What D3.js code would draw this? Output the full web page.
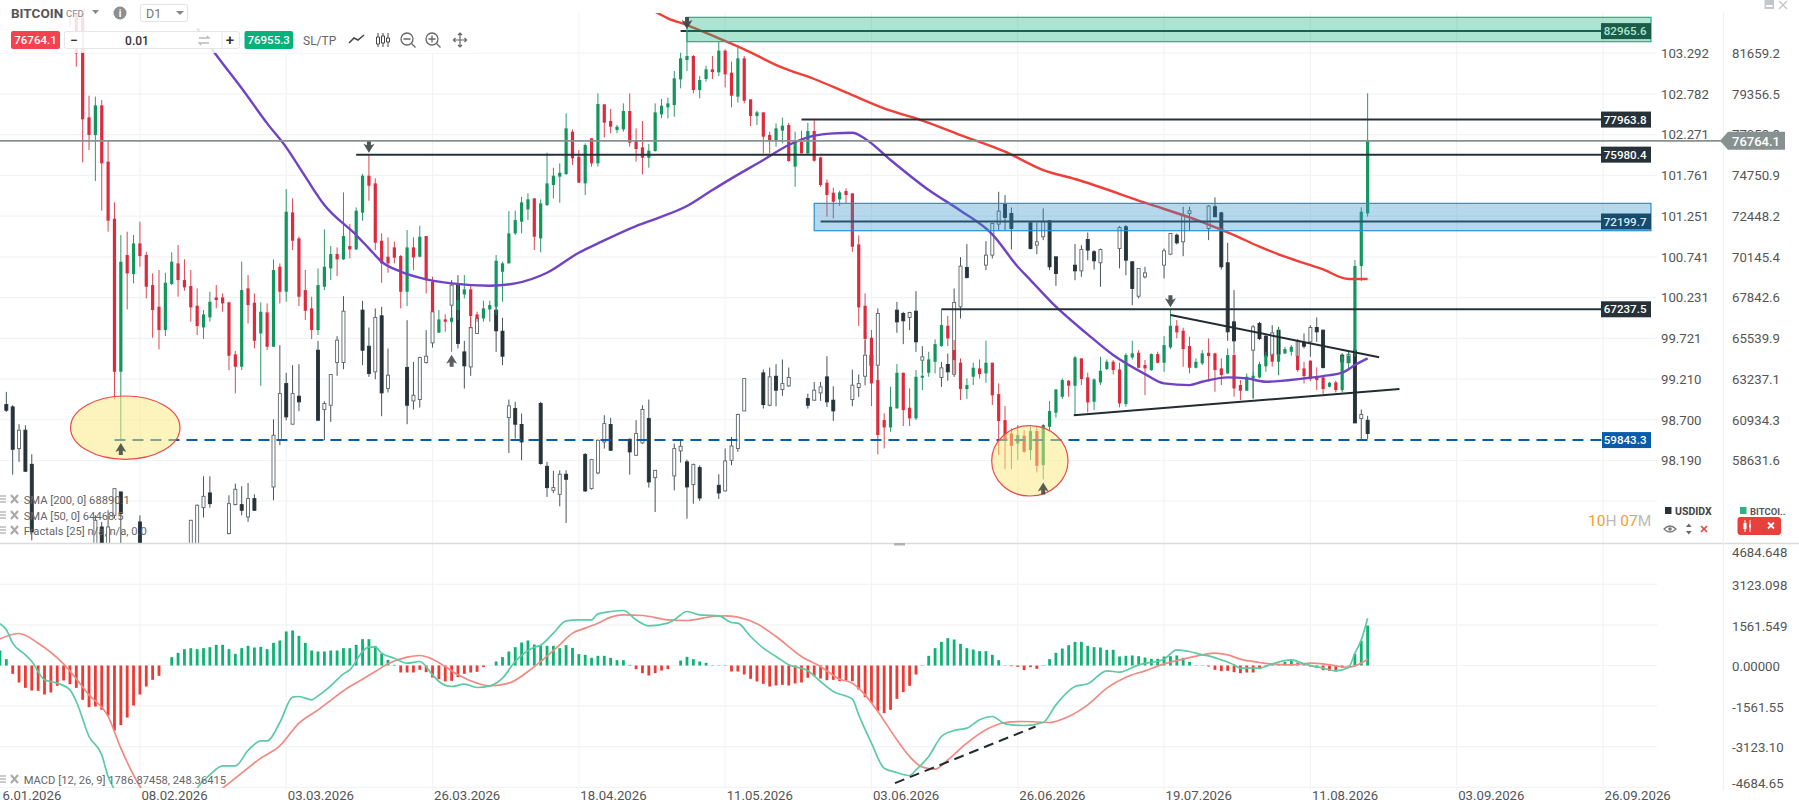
<!DOCTYPE html>
<html>
<head>
<meta charset="utf-8">
<script src="https://cdn.jsdelivr.net/npm/d3@7"></script>
<style>
    html, body { margin: 0; padding: 0; background: #fff; overflow: hidden; }
    text { font-family: Roboto, sans-serif; }
    .tick line, .domain { display: none; }
</style>
</head>
<body>
<svg id="chart" width="1799" height="810"></svg>
<script>
// first candle of the USDIDX series, every "day" below counts from here
const startDate = Date.UTC(2026, 0, 18);

// BITCOIN candles, one per day, starting at day 10
const btcFirstDay = 10;
const btcOpen = [
    86000, 86000, 86000, 78089, 77090, 78767, 75582, 72358, 63706, 70304,
    69229, 70963, 70304, 68607, 67382, 66063, 68664, 69832, 68890, 68551,
    67438, 66213, 66779, 67910, 67910, 67627, 64686, 63989, 68419, 67608,
    65874, 67062, 65120, 69644, 68230, 72716, 71246, 68324, 67288, 66063,
    68513, 69550, 70360, 70059, 70813, 70624, 72698, 74790, 74356, 71114,
    70210, 70737, 70247, 68230, 70737, 70210, 71378, 68795, 65912, 66666,
    66534, 67193, 68080, 68362, 66948, 66722, 67231, 67382, 69361, 69832,
    71529, 72189, 72886, 73508, 71246, 73131, 74262, 74734, 74884, 77278,
    75865, 74356, 76901, 75488,
    78824, 77881, 77372, 77410, 78447, 76807, 76392, 75808, 76185, 78258,
    78654, 78786, 80238, 81331, 81557, 79634, 80257, 80803, 80634, 81859,
    80615, 79258, 81425, 79107, 78164, 78372, 77090, 76807, 77335, 77655,
    75299, 76713, 76053, 77316, 75827, 74394, 73829, 73452, 73923, 73791,
    70907, 67438, 65629, 63235, 60973, 60558, 61633, 63650, 61671, 61067,
    63367, 63650, 64272, 65158, 66308, 64931, 64215, 62725, 63423, 63894,
    63612, 64215, 62443, 60973, 60219, 59653, 60087, 59276, 60351, 58428,
    60596, 61388, 62292, 63197, 62915, 64460, 63386, 62009, 63103, 63857,
    64272, 63838, 61878, 64517, 64781, 64083, 63800, 64705, 64215, 65082,
    66308, 66025, 65158, 63933, 64178, 64781, 64743, 63894, 63612, 64649,
    62952, 62632, 63329, 63386, 64026, 64649, 64272, 64743, 64837, 64592,
    63894, 64329, 63386, 63386, 62857, 63103, 62669, 64215, 64743, 69681, 72660
];
const btcHigh = [
    86500, 86500, 86500, 79314, 79258, 79069, 76769, 73282, 71435, 71623,
    71435, 72189, 70492, 69267, 69456, 69304, 70455, 70869, 70059, 69456,
    68419, 67193, 68230, 68607, 68136, 67665, 64875, 69926, 69173, 68136,
    67627, 67570, 70059, 69832, 74036, 73508, 71341, 69456, 67947, 69550,
    71755, 70813, 70737, 73848, 72057, 72999, 74884, 75980, 74639, 71529,
    71303, 71058, 70304, 71718, 71303, 71962, 71378, 69078, 67193, 66948,
    67005, 68701, 69173, 68607, 67099, 67721, 67721, 70304, 69926, 72792,
    72811, 73603, 73791, 73508, 73451, 76091, 75242, 75487, 78315, 77410,
    76242, 76618, 76901, 79446,
    78824, 78560, 77655, 78880, 79446, 77467, 77881, 76581, 78880, 79126,
    79201, 80709, 81746, 82966, 81614, 80426, 81010, 81557, 82368, 81934,
    81237, 82028, 81557, 79107, 78466, 78372, 77278, 77749, 78070, 77787,
    77278, 77335, 77787, 77938, 75865, 74583, 74111, 73942, 74074, 73791,
    71416, 68136, 66063, 63989, 61350, 62858, 64140, 63650, 62764, 63800,
    64366, 64837, 65535, 67231, 66873, 65497, 64460, 63329, 64215, 64404,
    65459, 64215, 63046, 61765, 60502, 60690, 60407, 60596, 60596, 60747,
    62048, 62707, 63329, 63235, 64592, 64460, 63650, 63329, 64554, 64404,
    64366, 64215, 64743, 65459, 64931, 64366, 64743, 64837, 65723, 67237,
    66628, 66195, 65686, 64460, 64931, 65591, 64781, 64460, 65026, 64837,
    63235, 63612, 63706, 64272, 64837, 64743, 66157, 65120, 65214, 65535,
    64272, 64366, 63951, 63518, 63122, 63197, 64743, 64837, 70021, 72999, 79446
];
const btcLow = [
    83216, 80954, 75544, 76242, 74488, 72811, 71623, 62142, 59843, 67231,
    68701, 69644, 67853, 65629, 64969, 65723, 68607, 67947, 68287, 66534,
    65780, 65554, 66534, 67288, 67099, 63800, 62481, 63800, 66440, 65026,
    62914, 64931, 65120, 67570, 67665, 70586, 67420, 66628, 65554, 65780,
    68324, 68890, 69116, 70021, 70115, 70586, 72245, 73376, 70586, 68739,
    69304, 69832, 67288, 67420, 69456, 70172, 68136, 67099, 65912, 65968,
    64837, 66628, 67853, 66157, 66534, 66534, 66534, 66911, 67665, 69832,
    71435, 71529, 72283, 70586, 70454, 73075, 73508, 73263, 74828, 75393,
    74394, 73697, 75299, 75299,
    76958, 77184, 77184, 77278, 76430, 75582, 74866, 75242, 76148, 78032,
    78032, 78126, 79729, 80709, 79446, 79163, 80106, 80257, 80426, 79785,
    78654, 78918, 78880, 77599, 77655, 76053, 76053, 76430, 76618, 75582,
    74168, 76053, 76015, 75582, 74168, 72472, 72377, 73075, 73226, 70492,
    66289, 64743, 61765, 59031, 59371, 60313, 61633, 60634, 60634, 60973,
    62669, 63423, 63612, 65120, 65158, 63612, 62104, 62160, 62952, 63329,
    63084, 61821, 58994, 58202, 58202, 58711, 59125, 58711, 58013, 57617,
    60351, 61105, 62160, 62292, 61218, 62952, 61406, 61538, 62952, 63800,
    63556, 61689, 61727, 64404, 63894, 62386, 63762, 64178, 63706, 64988,
    65591, 63989, 63612, 63894, 64083, 63141, 62575, 62952, 63574, 62292,
    62104, 62632, 62198, 63329, 63706, 63989, 63518, 64705, 64611, 63706,
    63046, 63179, 62669, 62443, 62820, 62537, 62537, 63894, 64554, 68833, 72472
];
const btcClose = [
    85000, 81708, 77976, 77090, 78767, 75488, 72245, 63706, 69926, 69267,
    70963, 70247, 68513, 67193, 66063, 68739, 69926, 68890, 68475, 67344,
    66289, 66948, 67665, 67759, 67570, 64611, 63989, 68324, 67476, 65459,
    67099, 65120, 69456, 68230, 72754, 71114, 67947, 67155, 66063, 68607,
    69644, 70360, 70059, 71378, 70624, 72811, 74790, 74225, 71001, 69832,
    69832, 70153, 68230, 70737, 70172, 71341, 68890, 67099, 66666, 66534,
    66760, 67759, 68362, 66854, 66722, 67288, 67476, 69983, 69832, 71529,
    72283, 73282, 73452, 71341, 73226, 74356, 74790, 74960, 77467, 75770,
    74394, 76524, 75488, 78843,
    77787, 77561, 77561, 78447, 76656, 76298, 75808, 76204, 78372, 78748,
    78880, 80294, 81425, 81557, 79634, 80200, 80803, 80652, 81859, 80520,
    79314, 81425, 79031, 78164, 78372, 76995, 76750, 77467, 77617, 75620,
    76713, 76053, 77316, 75638, 74262, 73697, 73320, 73848, 73697, 70775,
    67344, 65554, 63046, 60125, 60558, 61727, 63650, 61538, 61067, 63423,
    63480, 64404, 65270, 66345, 65591, 64366, 62725, 62952, 63933, 63574,
    64215, 62368, 60916, 59842, 59521, 60125, 59182, 60351, 58390, 60690,
    61482, 62707, 63235, 62915, 64517, 63292, 61972, 63273, 63762, 64272,
    63800, 61915, 64649, 64743, 63933, 63894, 64705, 64215, 65214, 66308,
    65931, 64988, 63933, 64272, 64743, 64592, 63800, 63518, 64649, 62764,
    62632, 63423, 63480, 64140, 64649, 64272, 64649, 64988, 65120, 63800,
    63461, 63292, 63235, 62725, 63084, 62669, 64592, 64592, 69681, 72754, 76764
];

// USDIDX candles, no weekend bars, days below the panel are left out
const usdDay = [
    0, 1, 2, 3, 4, 14, 15, 16, 17, 18, 21, 29, 30, 31, 32, 35, 36, 37, 38, 39,
    42, 43, 44, 45, 46, 49, 50, 51, 52, 53, 56, 57, 58, 59, 60, 63, 64, 65, 66, 67,
    70, 71, 72, 73, 74, 77, 78, 79, 80, 81, 84, 85, 86, 87, 88, 91, 92, 93, 94, 95,
    98, 99, 100, 101, 102, 105, 106, 107, 108, 109, 112, 113, 114, 115, 116, 119, 120, 121, 122, 123,
    126, 127, 128, 129, 130, 133, 134, 135, 136, 137, 140, 141, 142, 143, 144, 147, 148, 149, 150, 151,
    154, 155, 156, 157, 158, 161, 162, 163, 164, 165, 168, 169, 170, 171, 172, 175, 176, 177, 178, 179,
    182, 183, 184, 185, 186, 189, 190, 191, 192, 193, 196, 197, 198, 199, 200, 203, 204, 205, 206, 207,
    210, 211, 212, 213, 214
];
const usdOpen = [
    98.903, 98.874, 98.352, 98.582, 98.155, 97.036, 97.370, 97.036, 97.516, 97.809, 97.433, 96.994, 96.994, 97.612, 97.796, 97.286, 97.650, 97.650, 97.495, 97.725,
    97.871, 98.456, 99.166, 98.657, 99.008, 99.584, 98.841, 98.895, 99.430, 99.430, 100.086, 99.634, 99.313, 100.015, 99.104, 99.367, 98.949, 98.966, 99.430, 99.676,
    100.148, 100.399, 99.563, 99.375, 99.793, 100.086, 99.822, 98.740, 98.853, 98.653, 98.916, 98.130, 97.829, 97.779, 98.030, 98.277, 97.850, 98.047, 98.435, 98.653,
    98.469, 98.268, 98.423, 98.728, 97.988, 98.009, 98.323, 98.185, 97.900, 98.114, 97.892, 97.821, 98.205, 98.352, 98.824, 99.300, 98.895, 99.258, 99.091, 99.137,
    98.978, 98.958, 99.049, 99.250, 98.958, 98.966, 99.116, 99.258, 99.522, 99.396, 100.086, 100.044, 99.994, 100.073, 99.459, 99.242, 99.405, 99.283, 100.127, 100.620,
    100.650, 100.775, 101.163, 101.414, 101.297, 101.180, 100.900, 101.005, 101.205, 100.754, 100.649, 100.578, 100.971, 100.817, 100.679, 100.858, 101.130, 100.691, 100.261, 100.503,
    100.649, 100.787, 101.025, 100.942, 101.297, 101.109, 101.381, 101.305, 100.679, 99.939, 99.584, 99.919, 99.760, 99.522, 99.835, 99.509, 99.676, 99.689, 99.868, 99.835,
    99.522, 99.426, 99.584, 98.728, 98.707
];
const usdHigh = [
    99.062, 98.895, 98.657, 98.644, 98.281, 97.516, 97.433, 97.579, 97.850, 97.809, 97.516, 97.454, 97.650, 98.005, 98.005, 97.767, 97.913, 97.880, 97.921, 97.779,
    98.719, 99.647, 99.300, 99.396, 99.409, 99.701, 98.945, 99.283, 99.760, 100.261, 100.203, 99.868, 100.107, 100.127, 99.605, 99.960, 99.438, 99.501, 99.835, 100.441,
    100.462, 100.524, 99.701, 100.002, 100.023, 100.148, 99.990, 98.966, 98.937, 98.790, 98.937, 98.185, 98.072, 98.080, 98.080, 98.297, 98.214, 98.465, 98.770, 98.736,
    98.477, 98.707, 98.895, 98.966, 98.080, 98.414, 98.456, 98.214, 98.164, 98.143, 98.030, 98.352, 98.498, 98.790, 99.229, 99.342, 99.367, 99.409, 99.467, 99.367,
    99.041, 99.187, 99.187, 99.509, 99.133, 99.342, 99.279, 99.710, 99.751, 100.107, 100.190, 100.065, 100.065, 100.324, 99.634, 99.438, 99.542, 100.357, 100.750, 100.913,
    100.950, 101.180, 101.569, 101.527, 101.372, 101.180, 101.180, 101.360, 101.205, 100.754, 100.913, 100.900, 101.059, 100.838, 100.858, 101.138, 101.151, 100.700, 100.608, 100.629,
    100.858, 101.046, 101.046, 101.381, 101.381, 101.402, 101.498, 101.318, 100.929, 100.336, 99.898, 99.939, 99.772, 99.898, 99.877, 99.718, 99.793, 99.898, 99.994, 99.843,
    99.542, 99.572, 99.584, 98.841, 98.761
];
const usdLow = [
    98.811, 98.026, 98.185, 98.059, 97.203, 96.910, 96.910, 96.952, 97.474, 97.077, 96.910, 96.952, 96.952, 97.487, 97.612, 97.278, 97.642, 97.516, 97.433, 97.571,
    97.704, 98.394, 98.707, 98.657, 98.820, 98.699, 98.456, 98.686, 99.263, 99.346, 99.396, 99.250, 99.221, 98.757, 99.054, 98.657, 98.841, 98.866, 99.417, 99.618,
    99.919, 99.605, 99.104, 99.263, 99.793, 99.563, 99.396, 98.297, 98.477, 98.205, 98.151, 97.746, 97.796, 97.629, 97.420, 97.809, 97.838, 98.030, 98.352, 98.323,
    98.026, 98.260, 98.414, 97.863, 97.558, 97.829, 98.176, 97.474, 97.662, 97.696, 97.721, 97.817, 98.143, 98.310, 98.824, 98.853, 98.882, 98.882, 99.012, 99.125,
    98.853, 98.949, 98.949, 98.874, 98.699, 98.882, 98.999, 99.146, 99.166, 99.166, 99.802, 99.660, 99.835, 99.563, 99.300, 99.125, 99.200, 99.250, 99.981, 100.483,
    100.587, 100.733, 101.080, 101.088, 100.846, 100.846, 100.787, 100.963, 100.587, 100.390, 100.461, 100.503, 100.712, 100.595, 100.378, 100.608, 100.524, 100.148, 100.232, 100.482,
    100.482, 100.775, 100.908, 100.762, 101.080, 100.963, 101.255, 100.595, 99.701, 99.563, 98.978, 99.710, 99.375, 99.509, 99.271, 99.501, 99.605, 99.501, 99.689, 99.354,
    99.417, 99.417, 98.673, 98.465, 98.469
];
const usdClose = [
    98.832, 98.343, 98.582, 98.068, 97.307, 97.454, 96.994, 97.370, 97.850, 97.537, 96.952, 97.454, 97.642, 97.754, 97.662, 97.662, 97.842, 97.579, 97.725, 97.579,
    98.519, 99.041, 98.749, 99.041, 98.937, 98.707, 98.916, 99.279, 99.710, 100.073, 99.584, 99.292, 99.994, 99.049, 99.271, 98.895, 99.020, 99.492, 99.509, 100.065,
    100.399, 99.668, 99.388, 99.868, 99.981, 99.827, 99.509, 98.887, 98.657, 98.435, 98.164, 97.863, 97.863, 98.030, 97.967, 97.821, 98.214, 98.456, 98.665, 98.331,
    98.310, 98.540, 98.841, 97.934, 98.080, 98.352, 98.381, 97.871, 98.151, 97.733, 97.796, 98.197, 98.385, 98.778, 99.229, 98.903, 99.250, 99.083, 99.166, 99.242,
    98.895, 99.083, 99.125, 98.937, 98.824, 99.146, 99.166, 99.522, 99.396, 100.044, 99.939, 99.952, 100.056, 99.689, 99.501, 99.363, 99.313, 100.182, 100.637, 100.495,
    100.775, 101.172, 101.326, 101.247, 101.109, 100.858, 100.942, 101.193, 100.629, 100.545, 100.578, 100.846, 100.838, 100.704, 100.846, 101.122, 100.712, 100.357, 100.608, 100.553,
    100.829, 101.046, 100.929, 101.276, 101.330, 101.389, 101.255, 100.629, 99.814, 99.701, 99.877, 99.730, 99.509, 99.802, 99.534, 99.697, 99.634, 99.868, 99.814, 99.367,
    99.438, 99.534, 98.673, 98.778, 98.540
];

const sma200Day = [102, 104, 107, 112, 116, 122, 127, 132, 139, 143, 150, 157, 163, 168, 179, 188, 193, 197, 201, 207, 211, 214];
const sma200Val = [84064, 83687, 83310, 82556, 81934, 80897, 80257, 79503, 78466, 78032, 77090, 76147, 75110, 74602, 73263, 72170, 71435, 70775, 70209, 69493, 68947, 68947];
const sma50Day = [30, 33, 37, 41, 44, 47, 50, 55, 57, 59, 62, 66, 70, 76, 80, 85, 90, 93, 99, 102, 107, 111, 114, 119, 123, 127, 130, 133, 135, 139, 145, 150, 155, 159, 161, 165, 170, 174, 179, 182, 186, 188, 192, 195, 198, 204, 207, 210, 212, 214];
const sma50Val = [83122, 81614, 79729, 77749, 76392, 74733, 73131, 71435, 70681, 69926, 69361, 68928, 68701, 68569, 68701, 69304, 70436, 70963, 71944, 72340, 73075, 73979, 74639, 75676, 76524, 77052, 77184, 77222, 76882, 75676, 73979, 72811, 71473, 69644, 68890, 67382, 65818, 64649, 63574, 63047, 62952, 63141, 63386, 63329, 63141, 63329, 63461, 63650, 64083, 64460];

// MACD histogram, one bar per day from day -1
const macdFirstDay = -1;
const macdHist = [
    577, 244, -321, -654, -859, -962, -974, -1115, -1038, -782, -577, -718, -859, -1320, -1603, -1577, -1705, -1923, -2500, -2295,
    -2000, -1538, -1115, -808, -551, -397, 0, 321, 487, 628, 667, 628, 667, 705, 795, 795, 628, 449, 667, 756,
    692, 718, 628, 872, 962, 1308, 1346, 1141, 872, 577, 538, 538, 577, 577, 667, 667, 795, 1013, 1013, 756,
    449, 218, 26, -269, -269, -269, -167, -256, -462, -526, -615, -590, -449, -321, -269, -244, -64, 0, 154, 321,
    538, 705, 885, 962, 808, 782, 756, 756, 667, 782, 679, 436, 410, 295, 372, 372, 295, 205, 205, 26,
    -141, -295, -385, -295, -192, -141, 0, 192, 333, 244, 154, 103, 13, 13, -13, -231, -231, -346, -513, -615,
    -705, -808, -769, -744, -769, -692, -654, -474, -410, -500, -564, -551, -603, -577, -603, -923, -1218, -1436, -1744, -1833,
    -1705, -1282, -1026, -782, -346, 13, 372, 667, 910, 1051, 1000, 833, 667, 615, 551, 551, 410, 205, 13, -26,
    -51, -179, -64, -128, 13, 244, 487, 654, 782, 910, 910, 756, 705, 692, 603, 603, 346, 372, 385, 359,
    308, 256, 256, 346, 359, 385, 295, 141, 13, 13, -38, -167, -218, -205, -256, -295, -269, -269, -141, -38,
    26, 64, 141, 192, 115, 51, -38, -90, -179, -205, -231, -90, -13, 449, 949, 1538
];
const macdLineDay = [-1, 0, 1, 3, 4, 6, 8, 10, 11, 13, 15, 16, 17, 21, 27, 30, 32, 34, 36, 38, 40, 41, 43, 45, 46, 48, 49, 51, 53, 54, 56, 57, 58, 59, 61, 63, 65, 67, 68, 70, 72, 74, 76, 78, 80, 83, 84, 86, 88, 90, 92, 93, 95, 97, 99, 101, 104, 105, 107, 109, 112, 114, 115, 117, 119, 121, 123, 126, 128, 130, 133, 134, 136, 138, 140, 142, 143, 145, 147, 149, 151, 153, 155, 157, 160, 163, 165, 168, 170, 173, 175, 178, 182, 184, 186, 188, 189, 191, 193, 194, 197, 199, 202, 204, 207, 209, 211, 212, 213, 214];
const macdLineVal = [1603, 1372, 859, 410, 154, -551, -679, -936, -1385, -2731, -3436, -4269, -4782, -6500, -6500, -4718, -4205, -3859, -3859, -3269, -2897, -2897, -2192, -1218, -1192, -1320, -1167, -782, -321, -167, 538, 705, 705, 474, 282, 90, 154, -359, -615, -808, -718, -846, -782, -487, 154, 705, 782, 1244, 1718, 1756, 1756, 1987, 2077, 2115, 1756, 1526, 1628, 1756, 2077, 1949, 1910, 1654, 1628, 1115, 667, 346, 26, -205, -615, -1000, -1295, -1897, -2987, -3949, -4115, -4231, -4013, -3500, -2731, -2500, -2410, -2090, -1961, -2244, -2308, -2192, -1513, -808, -705, -205, -256, 26, 244, 603, 538, 410, 372, 218, 26, -103, -103, 64, 218, 64, -103, -205, -77, 474, 987, 1820];
const macdSignalDay = [-1, 2, 5, 9, 13, 16, 18, 21, 27, 34, 36, 40, 43, 46, 49, 54, 56, 58, 60, 63, 65, 67, 69, 71, 74, 76, 79, 82, 84, 87, 89, 91, 93, 95, 97, 100, 104, 107, 111, 113, 115, 118, 121, 125, 128, 131, 133, 135, 137, 140, 142, 144, 146, 148, 151, 154, 157, 160, 164, 167, 170, 173, 176, 179, 182, 185, 188, 190, 192, 194, 197, 199, 202, 205, 207, 209, 211, 212, 214];
const macdSignalVal = [1026, 1231, 859, 64, -1128, -1961, -3179, -4654, -6000, -4718, -4333, -3564, -3090, -2218, -1705, -808, -526, -231, 64, 321, 385, 244, -38, -359, -679, -782, -679, -231, 154, 795, 1244, 1436, 1628, 1859, 1949, 1923, 1756, 1730, 1885, 1910, 1859, 1603, 1115, 346, -38, -526, -679, -1128, -1769, -2859, -3500, -3910, -3987, -3628, -2987, -2474, -2192, -2154, -2192, -1961, -1513, -872, -449, -205, 64, 244, 410, 474, 410, 244, 115, 51, 26, 90, 64, -13, -64, -13, 244];

// axis ticks
const tickDates = ["2026-01-16", "2026-02-08", "2026-03-03", "2026-03-26", "2026-04-18", "2026-05-11", "2026-06-03", "2026-06-26", "2026-07-19", "2026-08-11", "2026-09-03", "2026-09-26"];
const usdTicks = [103.292, 102.782, 102.271, 101.761, 101.251, 100.741, 100.231, 99.721, 99.21, 98.7, 98.19];
const usdTickLabels = ["103.292", "102.782", "102.271", "101.761", "101.251", "100.741", "100.231", "99.721", "99.210", "98.700", "98.190"];
const btcTicks = [81659.2, 79356.5, 77053.8, 74750.9, 72448.2, 70145.4, 67842.6, 65539.9, 63237.1, 60934.3, 58631.6];
const macdTicks = [4684.648, 3123.098, 1561.549, 0, -1561.55, -3123.10, -4684.65];
const macdTickLabels = ["4684.648", "3123.098", "1561.549", "0.00000", "-1561.55", "-3123.10", "-4684.65"];

// drawn levels and zones
const levelVal = [82965.6, 77963.8, 75980.4, 72199.7, 67237.5];
const levelDay = [106, 125, 55, 128, 147];
const levelBox = ["#1b5c49", "#263238", "#263238", "#174a6b", "#263238"];
const levelText = ["#a9e6cf", "#fff", "#fff", "#d6ecf8", "#fff"];
const dashLevelVal = 59843.3;
const dashLevelDay = 17;
const lastPrice = 76764.1;
const zoneTop = [83744, 73226];
const zoneBottom = [82368, 71680];
const zoneDay = [107, 127];
const zoneFill = ["#0db27a", "#2f8fcb"];
const zoneStroke = ["#20b083", "#2b8fd0"];
const ovalDays = [[10.1, 27.3], [154.9, 166.9]];
const ovalVals = [[62334, 58755], [60655, 56680]];
const fractalUpDays = [18, 70, 163];
const fractalDownDays = [57, 107, 183];
const trendDays = [[183, 215.8], [167.8, 219]];
const trendVals = [[66914, 64522], [61243, 62730]];
const macdTrendDays = [139.7, 161.8];
const macdTrendVals = [-4525, -2346];

const plotRight = 1657, boxRight = 1651, usdX = 1661, btcX = 1732;

const svg = d3.select("#chart");
const dayDate = d => new Date(startDate + d * 864e5);

var x = d3.scaleUtc()
    .domain([new Date(Date.UTC(2026, 0, 16)), new Date(Date.UTC(2026, 8, 26))])
    .range([-6.4, 1603]);
const xd = d => x(dayDate(d));
var yBtc = d3.scaleLinear().domain([81659.2, 58631.6]).range([54.2, 461.5]);
var yUsd = d3.scaleLinear().domain([103.292, 98.19]).range([54.2, 461.5]);
var yMacd = d3.scaleLinear().domain([4684.648, -4684.648]).range([543.7, 787.3]);

const defs = svg.append("defs");
defs.append("clipPath").attr("id", "mainClip").append("rect")
    .attr("x", 0).attr("y", 13).attr("width", plotRight).attr("height", 530);
defs.append("clipPath").attr("id", "macdClip").append("rect")
    .attr("x", 0).attr("y", 544).attr("width", plotRight).attr("height", 244);

// grid
const grid = svg.append("g").attr("stroke", "#f2f3f4").attr("stroke-width", 1.2);
tickDates.forEach(function (t) {
    var gx = x(new Date(t + "T00:00:00Z"));
    grid.append("line").attr("x1", gx).attr("x2", gx).attr("y1", 12).attr("y2", 790);
});
btcTicks.concat([56330]).forEach(function (t) {
    grid.append("line").attr("x1", 0).attr("x2", plotRight).attr("y1", yBtc(t) - 1).attr("y2", yBtc(t) - 1);
});
macdTicks.slice(1).forEach(function (t) {
    grid.append("line").attr("x1", 0).attr("x2", plotRight).attr("y1", yMacd(t)).attr("y2", yMacd(t));
});

const main = svg.append("g").attr("clip-path", "url(#mainClip)");

// USDIDX candles first, bitcoin goes over them
const usdData = usdDay.map((d, i) => ({ d: d, o: usdOpen[i], h: usdHigh[i], l: usdLow[i], c: usdClose[i] }));
const usdG = main.append("g");
usdG.selectAll("line").data(usdData).enter().append("line")
    .attr("x1", d => xd(d.d)).attr("x2", d => xd(d.d))
    .attr("y1", d => yUsd(d.h)).attr("y2", d => yUsd(d.l))
    .attr("stroke", "#4a5459").attr("stroke-width", 1);
usdG.selectAll("rect").data(usdData).enter().append("rect")
    .attr("x", d => xd(d.d) - 1.5).attr("width", 3)
    .attr("y", d => yUsd(Math.max(d.o, d.c)))
    .attr("height", d => Math.max(1, Math.abs(yUsd(d.o) - yUsd(d.c))))
    .attr("fill", d => d.c >= d.o ? "#fff" : "#263238")
    .attr("stroke", d => d.c >= d.o ? "#5b6468" : "#263238").attr("stroke-width", 0.9);

const btcData = btcOpen.map((o, i) => ({ d: btcFirstDay + i, o: o, h: btcHigh[i], l: btcLow[i], c: btcClose[i] }));
const btcG = main.append("g");
btcG.selectAll("line").data(btcData).enter().append("line")
    .attr("x1", d => xd(d.d)).attr("x2", d => xd(d.d))
    .attr("y1", d => yBtc(d.h)).attr("y2", d => yBtc(d.l))
    .attr("stroke", d => d.c >= d.o ? "#2e9a6c" : "#dc4655").attr("stroke-width", 1);
btcG.selectAll("rect").data(btcData).enter().append("rect")
    .attr("x", d => xd(d.d) - 1.6).attr("width", 3.2)
    .attr("y", d => yBtc(Math.max(d.o, d.c)))
    .attr("height", d => Math.max(1.5, Math.abs(yBtc(d.o) - yBtc(d.c))))
    .attr("fill", d => d.c >= d.o ? "#12965d" : "#dd2a3c");

// moving averages
const smaLine = d3.line().x(d => xd(d[0])).y(d => yBtc(d[1])).curve(d3.curveMonotoneX);
main.append("path").attr("d", smaLine(d3.zip(sma200Day, sma200Val)))
    .attr("fill", "none").attr("stroke", "#ee4038").attr("stroke-width", 2.4);
main.append("path").attr("d", smaLine(d3.zip(sma50Day, sma50Val)))
    .attr("fill", "none").attr("stroke", "#7042c4").attr("stroke-width", 2.4);

// levels go under the zones so the zones tint them
levelVal.forEach(function (v, i) {
    main.append("line")
        .attr("x1", xd(levelDay[i])).attr("x2", boxRight)
        .attr("y1", yBtc(v)).attr("y2", yBtc(v))
        .attr("stroke", "#263238").attr("stroke-width", 2);
});
main.append("line")
    .attr("x1", xd(dashLevelDay)).attr("x2", boxRight)
    .attr("y1", yBtc(dashLevelVal)).attr("y2", yBtc(dashLevelVal))
    .attr("stroke", "#0a5ca8").attr("stroke-width", 2).attr("stroke-dasharray", "11,7");

// zones sit over the candles
zoneDay.forEach(function (d, i) {
    main.append("rect")
        .attr("x", xd(d)).attr("width", boxRight - xd(d))
        .attr("y", yBtc(zoneTop[i])).attr("height", yBtc(zoneBottom[i]) - yBtc(zoneTop[i]))
        .attr("fill", zoneFill[i]).attr("fill-opacity", 0.35)
        .attr("stroke", zoneStroke[i]).attr("stroke-width", 1.2);
});

// yellow ovals
ovalDays.forEach(function (d, i) {
    main.append("ellipse")
        .attr("cx", (xd(d[0]) + xd(d[1])) / 2)
        .attr("cy", (yBtc(ovalVals[i][0]) + yBtc(ovalVals[i][1])) / 2)
        .attr("rx", (xd(d[1]) - xd(d[0])) / 2)
        .attr("ry", (yBtc(ovalVals[i][1]) - yBtc(ovalVals[i][0])) / 2)
        .attr("fill", "#fbe97c").attr("fill-opacity", 0.5)
        .attr("stroke", "#ea4a48").attr("stroke-width", 1.2);
});

// triangle
trendDays.forEach(function (d, i) {
    main.append("line")
        .attr("x1", xd(d[0])).attr("x2", xd(d[1]))
        .attr("y1", yBtc(trendVals[i][0])).attr("y2", yBtc(trendVals[i][1]))
        .attr("stroke", "#222c31").attr("stroke-width", 2);
});

// fractals, the arrow tip touches the candle
const arrowPath = "M0,0L5.5,9L2,7.5L2,12L-2,12L-2,7.5L-5.5,9Z";
fractalUpDays.forEach(function (d) {
    main.append("path").attr("d", arrowPath)
        .attr("transform", "translate(" + xd(d) + "," + (yBtc(btcLow[d - btcFirstDay]) + 3) + ")")
        .attr("fill", "#3b4242").attr("fill-opacity", 0.85);
});
fractalDownDays.forEach(function (d) {
    main.append("path").attr("d", arrowPath)
        .attr("transform", "translate(" + xd(d) + "," + (yBtc(btcHigh[d - btcFirstDay]) - 2) + ") scale(1,-1)")
        .attr("fill", "#3b4242").attr("fill-opacity", 0.9);
});

// last price line
svg.append("line").attr("x1", 0).attr("x2", 1745)
    .attr("y1", yBtc(lastPrice)).attr("y2", yBtc(lastPrice))
    .attr("stroke", "#87918f").attr("stroke-width", 1.8);

// MACD panel
const macdG = svg.append("g").attr("clip-path", "url(#macdClip)");
macdG.selectAll("rect").data(macdHist).enter().append("rect")
    .attr("x", (d, i) => xd(macdFirstDay + i) - 1.4).attr("width", 2.8)
    .attr("y", d => yMacd(Math.max(d, 0)))
    .attr("height", d => Math.abs(yMacd(d) - yMacd(0)))
    .attr("fill", d => d >= 0 ? "#0cb372" : "#ef3a34");
const macdPath = d3.line().x(d => xd(d[0])).y(d => yMacd(d[1])).curve(d3.curveMonotoneX);
macdG.append("path").attr("d", macdPath(d3.zip(macdSignalDay, macdSignalVal)))
    .attr("fill", "none").attr("stroke", "#f08a82").attr("stroke-width", 1.7);
macdG.append("path").attr("d", macdPath(d3.zip(macdLineDay, macdLineVal)))
    .attr("fill", "none").attr("stroke", "#5ccaa2").attr("stroke-width", 1.7);
macdG.append("line")
    .attr("x1", xd(macdTrendDays[0])).attr("x2", xd(macdTrendDays[1]))
    .attr("y1", yMacd(macdTrendVals[0])).attr("y2", yMacd(macdTrendVals[1]))
    .attr("stroke", "#222c31").attr("stroke-width", 2).attr("stroke-dasharray", "10,6");

// panel separators
svg.append("line").attr("x1", 0).attr("x2", 1799).attr("y1", 543.5).attr("y2", 543.5)
    .attr("stroke", "#d9dcdd").attr("stroke-width", 1.4);
svg.append("rect").attr("x", 894).attr("y", 543).attr("width", 11).attr("height", 2.5).attr("fill", "#aeb3b5");
svg.append("line").attr("x1", 1723.5).attr("x2", 1723.5).attr("y1", 12).attr("y2", 790)
    .attr("stroke", "#f0f1f2").attr("stroke-width", 1.2);

// axes
function styleAxis(g) {
    g.selectAll("text").attr("fill", "#555").style("font-size", "13.2px").style("font-family", "Roboto");
}
svg.append("g").attr("transform", "translate(" + usdX + ",-1)")
    .call(d3.axisRight(yUsd).tickValues(usdTicks).tickSize(0).tickPadding(0).tickFormat((d, i) => usdTickLabels[i]))
    .call(styleAxis);
svg.append("g").attr("transform", "translate(" + btcX + ",-1)")
    .call(d3.axisRight(yBtc).tickValues(btcTicks).tickSize(0).tickPadding(0).tickFormat(d3.format(".1f")))
    .call(styleAxis);
const macdAxis = svg.append("g").attr("transform", "translate(" + btcX + ",0)")
    .call(d3.axisRight(yMacd).tickValues(macdTicks).tickSize(0).tickPadding(0).tickFormat((d, i) => macdTickLabels[i]))
    .call(styleAxis);
macdAxis.selectAll("text").attr("dy", (d, i) => i == 0 ? "0.95em" : (i == 6 ? "0.02em" : "0.4em"));
const dateAxis = svg.append("g").attr("transform", "translate(0,787)")
    .call(d3.axisBottom(x).tickValues(tickDates.map(t => new Date(t + "T00:00:00Z"))).tickSize(0).tickPadding(0).tickFormat(d3.utcFormat("%d.%m.%Y")))
    .call(styleAxis);
dateAxis.selectAll("text").attr("text-anchor", "start").attr("dx", 1).attr("dy", "0.95em");

// value boxes at the right end of the levels
levelVal.forEach(function (v, i) {
    svg.append("rect").attr("x", boxRight - 50).attr("width", 50)
        .attr("y", yBtc(v) - 8).attr("height", 16).attr("fill", levelBox[i]);
    svg.append("text").attr("x", boxRight - 4.5).attr("y", yBtc(v) + 4).attr("text-anchor", "end")
        .attr("fill", levelText[i]).style("font-size", "11.6px").style("font-weight", 500).text(v.toFixed(1));
});
svg.append("rect").attr("x", boxRight - 49).attr("width", 49)
    .attr("y", yBtc(dashLevelVal) - 8).attr("height", 16).attr("fill", "#0a5ca8");
svg.append("text").attr("x", boxRight - 4.5).attr("y", yBtc(dashLevelVal) + 4).attr("text-anchor", "end")
    .attr("fill", "#fff").style("font-size", "11.6px").style("font-weight", 500).text(dashLevelVal.toFixed(1));

// last price tag
const tagY = yBtc(lastPrice);
svg.append("path")
    .attr("d", "M1720," + tagY + "L1728," + (tagY - 9) + "H1785V" + (tagY + 9) + "H1728Z")
    .attr("fill", "#87918f");
svg.append("text").attr("x", 1732).attr("y", tagY + 5.5).attr("fill", "#fff")
    .style("font-size", "13px").style("font-weight", 500).text(lastPrice.toFixed(1));

// toolbar goes over a washed out strip of the chart
svg.append("rect").attr("x", 0).attr("y", 0).attr("width", 478).attr("height", 53).attr("fill", "#fff").attr("fill-opacity", 0.85);
const bar = svg.append("g");
function label(g, px, py, txt, size, color, weight, anchor) {
    return g.append("text").attr("x", px).attr("y", py).attr("fill", color)
        .attr("text-anchor", anchor || "start")
        .style("font-size", size + "px").style("font-weight", weight || 400).text(txt);
}
label(bar, 11, 18, "BITCOIN", 13.5, "#555", 700);
label(bar, 66, 17, "CFD", 9.5, "#888");
bar.append("path").attr("d", "M92,10h7l-3.5,4z").attr("fill", "#888");
bar.append("circle").attr("cx", 120).attr("cy", 13).attr("r", 6.5).attr("fill", "#8a8f91");
label(bar, 120, 17, "i", 10, "#fff", 700, "middle");
bar.append("rect").attr("x", 140.5).attr("y", 4.5).attr("width", 47).attr("height", 17).attr("rx", 2)
    .attr("fill", "#fff").attr("stroke", "#e1e3e4");
label(bar, 146, 18, "D1", 12.5, "#777");
bar.append("path").attr("d", "M176,11h8l-4,4z").attr("fill", "#888");

bar.append("rect").attr("x", 11).attr("y", 31).attr("width", 49).attr("height", 18).attr("rx", 2).attr("fill", "#f5424f");
label(bar, 35.5, 44, "76764.1", 11.5, "#fff", 500, "middle");
bar.append("rect").attr("x", 64.5).attr("y", 31.5).attr("width", 175).attr("height", 17).attr("rx", 2)
    .attr("fill", "#fff").attr("stroke", "#e4e6e7");
bar.append("path").attr("d", "M83,32V48M222,32V48").attr("stroke", "#e4e6e7");
label(bar, 74, 45, "−", 14, "#333", 500, "middle");
label(bar, 137, 44.5, "0.01", 12, "#333", 500, "middle");
bar.append("path").attr("d", "M199,38h10l-2,-2M209,43h-10l2,2").attr("fill", "none").attr("stroke", "#bbb").attr("stroke-width", 1.3);
label(bar, 230, 45, "+", 15, "#333", 500, "middle");
bar.append("rect").attr("x", 244.5).attr("y", 31).attr("width", 48.5).attr("height", 18).attr("rx", 2).attr("fill", "#06b27a");
label(bar, 268.7, 44, "76955.3", 11.5, "#fff", 500, "middle");
label(bar, 303, 44.5, "SL/TP", 12, "#666");

// small tool icons
bar.append("path").attr("d", "M349,43l5,-5l4,2l6,-5").attr("fill", "none").attr("stroke", "#444").attr("stroke-width", 1.5);
bar.append("path").attr("d", "M378,33v14M383,33v14M388,33v14").attr("stroke", "#444");
bar.append("path").attr("d", "M376.5,37h3v7h-3zM381.5,36h3v7h-3zM386.5,38h3v4h-3z").attr("fill", "#fff").attr("stroke", "#444");
[[407, "M403.5,39h7"], [432, "M428.5,39h7M432,35.5v7"]].forEach(function (z) {
    bar.append("circle").attr("cx", z[0]).attr("cy", 39).attr("r", 6).attr("fill", "none").attr("stroke", "#666").attr("stroke-width", 1.3);
    bar.append("path").attr("d", z[1] + "M" + (z[0] + 4.5) + ",43.5l4,4").attr("fill", "none").attr("stroke", "#666").attr("stroke-width", 1.3);
});
bar.append("path").attr("d", "M460,33v14M453.5,40h13M458,35l2,-2l2,2M458,45l2,2l2,-2M455.5,38l-2,2l2,2M464.5,38l2,2l-2,2")
    .attr("fill", "none").attr("stroke", "#666").attr("stroke-width", 1.2);

// window buttons
bar.append("rect").attr("x", 1764.5).attr("y", 0).attr("width", 9.5).attr("height", 9).attr("fill", "#c3c7c9");
bar.append("rect").attr("x", 1766).attr("y", 5).attr("width", 6.5).attr("height", 2).attr("fill", "#fff");
bar.append("path").attr("d", "M1779,1l8,8M1787,1l-8,8").attr("stroke", "#c3c7c9").attr("stroke-width", 1.5);

// indicator legend
const legendRows = [[499, "SMA [200, 0] 68890.1"], [515, "SMA [50, 0] 64468.5"], [530, "Fractals [25] n/a, n/a, 0.0"], [779, "MACD [12, 26, 9] 1786.87458, 248.36415"]];
legendRows.forEach(function (r) {
    label(svg, 23.7, r[0] + 4.5, r[1], 11.2, "#666");
    svg.append("path").attr("d", "M11," + (r[0] - 4) + "l7,8M18," + (r[0] - 4) + "l-7,8")
        .attr("stroke", "#aaa").attr("stroke-width", 2.2);
    svg.append("path").attr("d", "M0," + (r[0] - 3) + "h6M0," + r[0] + "h6M0," + (r[0] + 3) + "h6")
        .attr("stroke", "#bbb").attr("stroke-width", 1.4);
});

// candle countdown
const timer = svg.append("text").attr("x", 1588).attr("y", 526).style("font-size", "15.5px");
[["10", "#f7a029"], ["H ", "#bbb"], ["07", "#f7a029"], ["M", "#bbb"]].forEach(function (t) {
    timer.append("tspan").attr("fill", t[1]).text(t[0]);
});

// series switches bottom right
svg.append("rect").attr("x", 1665).attr("y", 507).attr("width", 6.5).attr("height", 7).attr("fill", "#263238");
label(svg, 1675, 514.5, "USDIDX", 10.5, "#444", 700);
svg.append("path").attr("d", "M1664,529q6,-6 12,0q-6,6 -12,0z").attr("fill", "none").attr("stroke", "#777").attr("stroke-width", 1.2);
svg.append("circle").attr("cx", 1670).attr("cy", 529).attr("r", 1.8).attr("fill", "#777");
svg.append("path").attr("d", "M1686,527l2.8,-3.5l2.8,3.5zM1686,531l2.8,3.5l2.8,-3.5z").attr("fill", "#666");
svg.append("path").attr("d", "M1701,526l6,6M1707,526l-6,6").attr("stroke", "#e8453c").attr("stroke-width", 1.7);
svg.append("rect").attr("x", 1740).attr("y", 507).attr("width", 6.5).attr("height", 7).attr("fill", "#2bb585");
label(svg, 1750, 514.5, "BITCOI..", 9.5, "#555", 700);
svg.append("rect").attr("x", 1737.5).attr("y", 517).attr("width", 43.5).attr("height", 18).attr("rx", 3).attr("fill", "#e8403a");
svg.append("path").attr("d", "M1745,520v12M1750,520v12").attr("stroke", "#fff");
svg.append("path").attr("d", "M1743.5,523h3v6h-3zM1749,524.5h2v3h-2z").attr("fill", "#fff");
svg.append("path").attr("d", "M1768,522.5l6,6M1774,522.5l-6,6").attr("stroke", "#fff").attr("stroke-width", 1.8);
</script>
</body>
</html>
